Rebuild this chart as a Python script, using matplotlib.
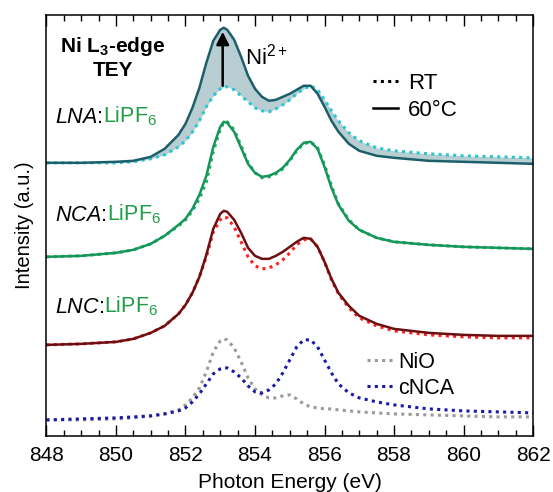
import matplotlib
matplotlib.use("Agg")
import matplotlib.pyplot as plt
from matplotlib.lines import Line2D
from matplotlib.ticker import MultipleLocator

plt.rcParams['font.family'] = 'Liberation Sans'
plt.rcParams['mathtext.fontset'] = 'custom'
plt.rcParams['mathtext.rm'] = 'Liberation Sans'
plt.rcParams['mathtext.it'] = 'Liberation Sans:italic'
plt.rcParams['mathtext.bf'] = 'Liberation Sans:bold'

# photon energy grid (eV)
energy = [848, 849, 850, 850.5, 851, 851.4, 851.8, 852.0, 852.2, 852.4, 852.6, 852.8,
          853.0, 853.1, 853.2, 853.4, 853.6, 853.8, 854.0, 854.2, 854.4, 854.6, 854.8,
          855.0, 855.2, 855.4, 855.6, 855.8, 856.0, 856.2, 856.4, 856.7, 857.0, 857.5,
          858, 859, 860, 861, 862]

# stacked TEY spectra (a.u., offsets included)
lna_60 = [2.73, 2.73, 2.74, 2.75, 2.79, 2.87, 3.01, 3.12, 3.28, 3.48, 3.73, 3.95,
          4.06, 4.08, 4.06, 3.96, 3.79, 3.60, 3.47, 3.39, 3.35, 3.36, 3.39,
          3.42, 3.46, 3.50, 3.50, 3.42, 3.29, 3.15, 3.04, 2.92, 2.85, 2.80,
          2.78, 2.75, 2.74, 2.73, 2.72]
lna_rt = [2.73, 2.73, 2.73, 2.74, 2.77, 2.81, 2.89, 2.95, 3.04, 3.15, 3.29, 3.40,
          3.47, 3.49, 3.49, 3.46, 3.40, 3.34, 3.28, 3.25, 3.24, 3.27, 3.31,
          3.36, 3.42, 3.47, 3.50, 3.46, 3.36, 3.25, 3.15, 3.03, 2.95, 2.88,
          2.85, 2.82, 2.80, 2.79, 2.78]
nca_60 = [1.79, 1.80, 1.83, 1.86, 1.92, 2.00, 2.11, 2.17, 2.27, 2.41, 2.60, 2.89,
          3.09, 3.14, 3.13, 3.04, 2.88, 2.72, 2.63, 2.59, 2.60, 2.63, 2.68,
          2.76, 2.86, 2.93, 2.94, 2.87, 2.69, 2.48, 2.31, 2.15, 2.06, 1.98,
          1.94, 1.91, 1.89, 1.88, 1.87]
nca_rt = [1.79, 1.80, 1.83, 1.86, 1.92, 2.00, 2.10, 2.16, 2.25, 2.37, 2.54, 2.84,
          3.07, 3.13, 3.14, 3.06, 2.90, 2.73, 2.63, 2.58, 2.59, 2.62, 2.67,
          2.75, 2.85, 2.92, 2.94, 2.88, 2.71, 2.50, 2.32, 2.16, 2.06, 1.98,
          1.94, 1.91, 1.89, 1.88, 1.87]
lnc_60 = [0.91, 0.92, 0.94, 0.97, 1.03, 1.10, 1.22, 1.31, 1.43, 1.59, 1.81, 2.07,
          2.22, 2.25, 2.24, 2.16, 2.03, 1.88, 1.80, 1.77, 1.77, 1.80, 1.84,
          1.89, 1.94, 1.98, 1.97, 1.89, 1.74, 1.57, 1.43, 1.30, 1.20, 1.12,
          1.07, 1.03, 1.01, 1.00, 1.00]
lnc_rt = [0.91, 0.92, 0.94, 0.97, 1.03, 1.10, 1.22, 1.31, 1.43, 1.59, 1.79, 2.04,
          2.16, 2.19, 2.18, 2.09, 1.94, 1.79, 1.70, 1.67, 1.68, 1.71, 1.76,
          1.83, 1.91, 1.96, 1.97, 1.89, 1.74, 1.56, 1.42, 1.28, 1.18, 1.10,
          1.05, 1.01, 0.99, 0.98, 0.98]
nio = [0.16, 0.16, 0.17, 0.18, 0.20, 0.22, 0.26, 0.31, 0.38, 0.48, 0.64, 0.84,
       0.95, 0.97, 0.96, 0.88, 0.74, 0.58, 0.47, 0.41, 0.38, 0.38, 0.40,
       0.41, 0.37, 0.32, 0.29, 0.28, 0.27, 0.27, 0.26, 0.25, 0.24, 0.23,
       0.22, 0.21, 0.20, 0.19, 0.19]
cnca = [0.16, 0.17, 0.18, 0.19, 0.20, 0.22, 0.25, 0.28, 0.34, 0.42, 0.52, 0.62,
        0.67, 0.68, 0.68, 0.64, 0.58, 0.50, 0.44, 0.43, 0.46, 0.52, 0.63,
        0.76, 0.89, 0.96, 0.96, 0.89, 0.76, 0.63, 0.52, 0.43, 0.38, 0.34,
        0.31, 0.27, 0.25, 0.24, 0.23]

sample_names = ['LNA', 'NCA', 'LNC']
label_y = [3.13, 2.15, 1.23]
ni2_peak = 853.07

dot = (1, 1.4)
green_txt = '#1e9e46'

fig = plt.figure(figsize=(5.53, 4.92), dpi=100)
ax = fig.add_axes([0.084, 0.114, 0.880, 0.856])

# LNA: shaded Ni2+ growth between RT and 60 C
ax.fill_between(energy, lna_rt, lna_60, color='#b8ced3', lw=0)
ax.plot(energy, lna_rt, color='#2cc6d0', lw=2.2, dashes=dot)
ax.plot(energy, lna_60, color='#1c5f6b', lw=1.8)

ax.plot(energy, nca_rt, color='#22b060', lw=2.2, dashes=dot)
ax.plot(energy, nca_60, color='#15965a', lw=1.8)

ax.plot(energy, lnc_rt, color='#ff2020', lw=2.2, dashes=dot)
ax.plot(energy, lnc_60, color='#6b0f10', lw=1.8)

# reference spectra
ax.plot(energy, nio, color='#9a9a9a', lw=2.2, dashes=dot)
ax.plot(energy, cnca, color='#1a1aa6', lw=2.2, dashes=dot)

ax.set_xlim(848, 862)
ax.set_ylim(0, 4.21)
ax.set_yticks([])
ax.xaxis.set_major_locator(MultipleLocator(2))
ax.xaxis.set_minor_locator(MultipleLocator(0.5))
ax.tick_params(axis='x', which='both', direction='in', top=True, labelsize=15)
ax.tick_params(axis='x', which='major', length=8, width=1.0, pad=7)
ax.tick_params(axis='x', which='minor', length=4.5, width=1.0)
for s in ax.spines.values():
    s.set_linewidth(1.1)

ax.set_xlabel('Photon Energy (eV)', fontsize=15, labelpad=6)
ax.set_ylabel('Intensity (a.u.)', fontsize=14.5, labelpad=9)

ax.text(849.91, 3.785, 'Ni L$_\\mathbf{3}$-edge\nTEY', fontsize=15, fontweight='bold',
        ha='center', va='center', linespacing=1.2)

ax.annotate('', xy=(ni2_peak, 4.04), xytext=(ni2_peak, 3.50),
            arrowprops=dict(arrowstyle='-|>', color='k', lw=1.8, mutation_scale=19,
                            shrinkA=0, shrinkB=0))
ax.text(853.71, 3.79, 'Ni$^{2+}$', fontsize=16, va='center')

# sample labels: italic cathode name, green electrolyte
for name, y in zip(sample_names, label_y):
    t = ax.text(848.25, y, '$\\mathit{%s}$:' % name, fontsize=15.5, va='baseline')
    ax.annotate('LiPF$_6$', xy=(1, y), xycoords=(t, 'data'), fontsize=15.5,
                va='baseline', color=green_txt)

leg1 = ax.legend([Line2D([], [], color='k', lw=2.2, dashes=dot),
                  Line2D([], [], color='k', lw=1.8)],
                 ['RT', '60°C'], loc='center left', bbox_to_anchor=(0.671, 0.805),
                 frameon=False, fontsize=16, handlelength=1.13, handletextpad=0.45,
                 labelspacing=0.29, borderpad=0, borderaxespad=0)
ax.add_artist(leg1)
ax.legend([Line2D([], [], color='#9a9a9a', lw=2.2, dashes=dot),
           Line2D([], [], color='#1a1aa6', lw=2.2, dashes=dot)],
          ['NiO', 'cNCA'], loc='center left', bbox_to_anchor=(0.659, 0.144),
          frameon=False, fontsize=15.5, handlelength=1.2, handletextpad=0.25,
          labelspacing=0.21, borderpad=0, borderaxespad=0)

fig.savefig('out.png', dpi=100)
